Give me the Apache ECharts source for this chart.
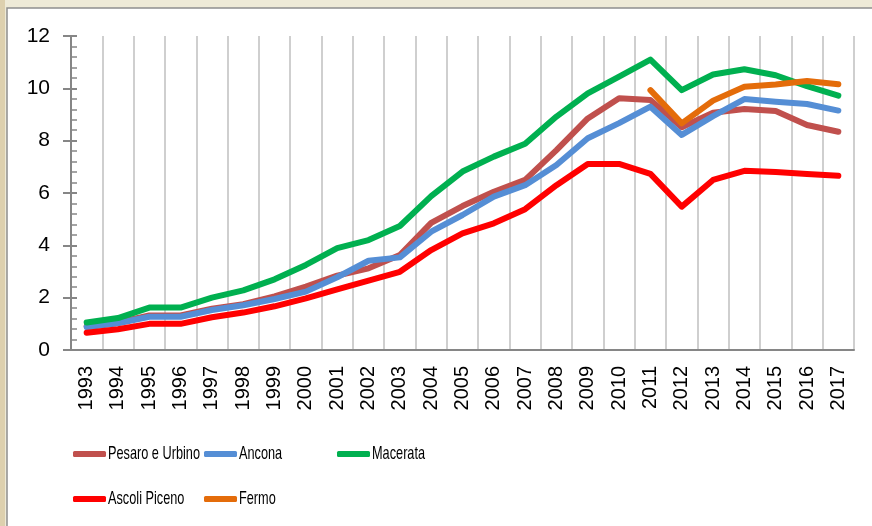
<!DOCTYPE html>
<html>
<head>
<meta charset="utf-8">
<script src="https://cdn.jsdelivr.net/npm/echarts@6/dist/echarts.min.js"></script>
<style>
  html, body { margin: 0; padding: 0; background: #eeead7; }
  #echarts { width: 872px; height: 526px; }
</style>
</head>
<body>
<div id="echarts"></div>
<script>
// anni
var years = ['1993','1994','1995','1996','1997','1998','1999','2000','2001','2002','2003','2004','2005',
    '2006','2007','2008','2009','2010','2011','2012','2013','2014','2015','2016','2017'];
var yTicks = [0, 2, 4, 6, 8, 10, 12];

var pesaro = [0.9,1.05,1.32,1.32,1.58,1.75,2.05,2.42,2.84,3.12,3.63,4.86,5.5,6.05,6.5,7.64,8.85,9.62,9.55,8.51,9.07,9.21,9.13,8.6,8.34];
var ancona = [0.87,1.02,1.27,1.27,1.53,1.71,1.95,2.23,2.78,3.41,3.54,4.52,5.16,5.86,6.3,7.07,8.09,8.67,9.3,8.22,8.94,9.59,9.49,9.4,9.15];
var macerata = [1.05,1.22,1.62,1.62,2.0,2.28,2.7,3.25,3.89,4.2,4.74,5.88,6.82,7.39,7.88,8.92,9.81,10.45,11.1,9.93,10.53,10.73,10.5,10.08,9.72];
var ascoli = [0.66,0.79,1.0,1.0,1.25,1.43,1.67,1.97,2.32,2.65,2.99,3.82,4.46,4.84,5.38,6.3,7.11,7.11,6.73,5.48,6.5,6.85,6.8,6.73,6.66];
var fermo = [null,null,null,null,null,null,null,null,null,null,null,null,null,null,null,null,null,null,
    9.93,8.66,9.53,10.06,10.15,10.28,10.16];

var names = ['Pesaro e Urbino','Ancona','Macerata','Ascoli Piceno','Fermo'];
var colors = ['#c0504d','#558ed5','#00b050','#ff0000','#e46c0a'];
var seriesData = [pesaro, ancona, macerata, ascoli, fermo];

var myChart = echarts.init(document.getElementById('echarts'));

// legenda a griglia, una per voce (solo icone, il testo è stretto come in Excel)
var legendPos = [[68,446],[199,446],[332,446],[68,491],[199,491]];
var legends = names.map(function (n, i) {
    return {
        data: [n],
        left: legendPos[i][0],
        top: legendPos[i][1],
        icon: 'roundRect',
        itemWidth: 33,
        itemHeight: 6,
        selectedMode: false,
        formatter: function () { return ''; },
        textStyle: { fontSize: 1 }
    };
});
// etichette della legenda, compresse in orizzontale
var legendTexts = names.map(function (n, i) {
    return {
        type: 'text',
        x: legendPos[i][0] + 40,
        y: legendPos[i][1] + 8,
        scaleX: 0.67,
        style: {
            text: n,
            fill: '#000',
            font: '19px "Liberation Sans", sans-serif',
            verticalAlign: 'middle'
        }
    };
});

var series = seriesData.map(function (d, i) {
    return {
        name: names[i],
        type: 'line',
        data: d,
        symbol: 'none',
        color: colors[i],
        lineStyle: { width: 6, color: colors[i], cap: 'round', join: 'round' },
        animation: false
    };
});

option = {
    backgroundColor: '#eeead7',
    graphic: [
        {
            type: 'rect',
            z: -10,
            shape: { x: 7, y: 8, width: 900, height: 560 },
            style: { fill: '#ffffff', stroke: '#8e8e8e', lineWidth: 1.5 }
        },
        {
            type: 'rect',
            z: -10,
            shape: { x: 0, y: 0, width: 5, height: 526 },
            style: { fill: '#ddd0ae' }
        }
    ].concat(legendTexts),
    legend: legends,
    grid: { left: 71, right: 18, top: 36, bottom: 176 },
    xAxis: {
        type: 'category',
        data: years,
        boundaryGap: true,
        axisLine: { lineStyle: { color: '#868686', width: 2 } },
        axisTick: { show: false },
        axisLabel: {
            rotate: 90,
            interval: 0,
            margin: 16,
            color: '#000',
            fontFamily: '"Liberation Sans", sans-serif',
            fontSize: 20
        },
        splitLine: { show: true, interval: 0, lineStyle: { color: '#bfbfbf', width: 1.5 } }
    },
    yAxis: [
        {
            type: 'value',
            min: yTicks[0],
            max: yTicks[yTicks.length - 1],
            interval: 2,
            axisLine: { show: true, lineStyle: { color: '#868686', width: 2 } },
            axisTick: { show: true, length: 8, lineStyle: { color: '#868686', width: 2 } },
            axisLabel: {
                margin: 21,
                color: '#000',
                fontFamily: '"Liberation Sans", sans-serif',
                fontSize: 21
            },
            splitLine: { show: false }
        },
        {
            // tacche secondarie verso l'interno
            type: 'value',
            position: 'left',
            offset: -6,
            min: yTicks[0],
            max: yTicks[yTicks.length - 1],
            interval: 2,
            axisLine: { show: false },
            axisTick: { show: true, length: 6, lineStyle: { color: '#868686', width: 2 } },
            minorTick: { show: true, splitNumber: 5, length: 6, lineStyle: { color: '#868686', width: 1.5 } },
            axisLabel: { show: false },
            splitLine: { show: false }
        }
    ],
    series: series
};
myChart.setOption(option);
</script>
</body>
</html>
